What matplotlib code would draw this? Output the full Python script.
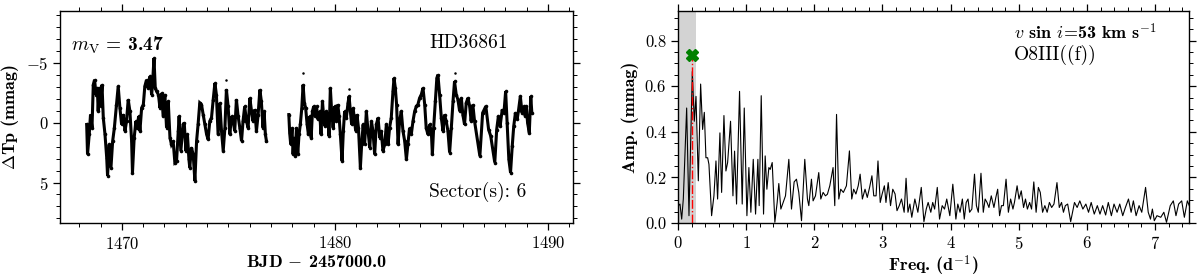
import matplotlib
matplotlib.use('Agg')
import matplotlib.pyplot as plt
from matplotlib.ticker import MultipleLocator, FormatStrFormatter

plt.rcParams['font.family'] = 'serif'
plt.rcParams['font.serif'] = ['cmr10']
plt.rcParams['mathtext.fontset'] = 'cm'
plt.rcParams['axes.formatter.use_mathtext'] = True

# light curve, orbit 1 (BJD - 2457000, delta Tp in mmag)
time_orbit1 = [1468.35, 1468.39, 1468.47, 1468.53, 1468.60, 1468.66, 1468.72, 1468.79,
               1468.85, 1468.89, 1468.94, 1469.00, 1469.07, 1469.13, 1469.21, 1469.29,
               1469.33, 1469.41, 1469.49, 1469.57, 1469.65, 1469.75, 1469.83, 1469.91,
               1469.99, 1470.07, 1470.15, 1470.22, 1470.30, 1470.38, 1470.46, 1470.50,
               1470.58, 1470.66, 1470.72, 1470.79, 1470.85, 1470.93, 1471.01, 1471.08,
               1471.16, 1471.24, 1471.32, 1471.40, 1471.44, 1471.51, 1471.57, 1471.63,
               1471.72, 1471.79, 1471.87, 1471.94, 1472.02, 1472.10, 1472.18, 1472.26,
               1472.33, 1472.41, 1472.49, 1472.57, 1472.65, 1472.69, 1472.77, 1472.88,
               1472.93, 1473.01, 1473.08, 1473.15, 1473.19, 1473.27, 1473.35, 1473.43,
               1473.51, 1473.58, 1473.66, 1473.74, 1473.82, 1473.90, 1473.98, 1474.05,
               1474.13, 1474.21, 1474.29, 1474.37, 1474.44, 1474.52, 1474.60, 1474.68,
               1474.76, 1474.84, 1474.91, 1474.99, 1475.07, 1475.15, 1475.23, 1475.30,
               1475.38, 1475.46, 1475.54, 1475.62, 1475.69, 1475.77, 1475.85, 1475.93,
               1476.01, 1476.09, 1476.16, 1476.24, 1476.32, 1476.40, 1476.48, 1476.55,
               1476.63, 1476.68, 1476.74, 1476.79]
dmag_orbit1 = [0.14, 2.64, 0.97, -0.69, 0.42, -3.19, -3.61, -2.36,
               -2.92, -0.97, -2.92, -1.39, -3.19, -0.42, 0.97, 2.92,
               4.44, 1.81, 3.75, 1.53, 0.42, -1.53, -3.06, -1.25,
               0.14, -0.69, 0.69, -0.14, -1.94, -0.97, 1.53, 4.17,
               1.25, -0.14, 0.42, -0.56, 0.69, -1.25, -1.53, -3.06,
               -3.61, -2.92, -3.89, -2.36, -3.19, -5.42, -2.92, -2.64,
               -2.36, -1.25, -2.50, -0.56, -2.36, 0.42, -1.81, 1.25,
               1.81, 1.53, 3.33, 3.19, 0.69, -0.56, 2.36, 0.14,
               0.00, 2.36, 0.97, 3.06, 3.75, 2.08, 2.64, 4.86,
               1.53, 0.14, -1.67, -1.53, -0.69, 0.14, 0.97, 1.39,
               -0.14, -0.42, -1.94, -3.33, -2.36, 0.97, -1.67, 0.69,
               2.36, 0.42, -2.78, -1.39, 0.97, -0.56, -0.14, 0.69,
               -1.94, -0.56, 0.42, 1.53, -0.14, -1.39, -0.14, 0.42,
               -2.08, -0.97, -0.14, -1.11, 0.69, -0.69, -2.78, -1.81,
               0.42, -0.97, 0.97, 1.53]

# light curve, orbit 2
time_orbit2 = [1477.84, 1477.88, 1477.93, 1477.99, 1478.04, 1478.09, 1478.13, 1478.20,
               1478.26, 1478.32, 1478.38, 1478.45, 1478.51, 1478.57, 1478.63, 1478.70,
               1478.76, 1478.82, 1478.89, 1478.95, 1479.01, 1479.07, 1479.14, 1479.21,
               1479.29, 1479.35, 1479.42, 1479.48, 1479.54, 1479.60, 1479.67, 1479.73,
               1479.79, 1479.85, 1479.92, 1480.00, 1480.07, 1480.14, 1480.20, 1480.26,
               1480.34, 1480.40, 1480.46, 1480.54, 1480.62, 1480.67, 1480.73, 1480.79,
               1480.86, 1480.93, 1480.98, 1481.04, 1481.11, 1481.20, 1481.26, 1481.33,
               1481.40, 1481.48, 1481.56, 1481.64, 1481.72, 1481.79, 1481.87, 1481.95,
               1482.03, 1482.11, 1482.18, 1482.26, 1482.34, 1482.42, 1482.50, 1482.57,
               1482.65, 1482.73, 1482.78, 1482.84, 1482.90, 1482.97, 1483.04, 1483.12,
               1483.20, 1483.28, 1483.36, 1483.43, 1483.51, 1483.59, 1483.67, 1483.75,
               1483.83, 1483.90, 1483.98, 1484.06, 1484.14, 1484.22, 1484.29, 1484.37,
               1484.45, 1484.53, 1484.58, 1484.64, 1484.72, 1484.79, 1484.84, 1484.92,
               1485.00, 1485.08, 1485.15, 1485.23, 1485.31, 1485.39, 1485.47, 1485.55,
               1485.62, 1485.70, 1485.78, 1485.86, 1485.94, 1486.01, 1486.09, 1486.17,
               1486.25, 1486.33, 1486.40, 1486.48, 1486.56, 1486.81, 1486.94, 1487.09,
               1487.22, 1487.32, 1487.51, 1487.60, 1487.68, 1487.76, 1487.86, 1487.94,
               1488.02, 1488.09, 1488.17, 1488.25, 1488.33, 1488.40, 1488.48, 1488.56,
               1488.63, 1488.71, 1488.79, 1488.87, 1488.94, 1488.99, 1489.05, 1489.13,
               1489.20, 1489.25]
dmag_orbit2 = [-0.69, 0.83, 1.81, 0.42, 2.64, 1.25, 2.78, 0.42,
               2.64, 0.97, 0.14, -1.25, -3.19, -1.67, -1.25, 0.14,
               0.97, -0.56, 1.25, -0.97, -1.39, -0.56, -1.39, -0.28,
               -0.97, 0.97, -1.81, -0.42, 0.28, -0.97, -0.56, 1.11,
               -2.92, -0.97, 0.42, -1.39, -0.14, -1.53, -0.56, 0.97,
               3.19, 0.69, -0.97, -0.42, -1.67, -2.22, -0.97, 0.14,
               -1.25, -0.14, 0.69, -0.69, 0.42, 3.75, 1.81, 0.14,
               1.81, -0.97, 0.69, 2.08, -0.14, 0.69, 2.64, 0.14,
               -0.42, 1.25, 0.69, 2.36, 1.81, 0.14, 1.81, 0.42,
               -0.42, -2.64, -3.75, -2.92, -1.53, 1.81, -0.14, -0.97,
               0.69, 1.53, 3.06, 1.81, 0.42, 0.97, -0.14, -0.97,
               -1.39, -1.53, -2.08, -2.36, -2.92, -1.53, 0.42, 0.97,
               0.14, 0.69, 2.64, 0.42, -1.81, -3.75, -4.03, -2.36,
               -0.42, 0.69, -0.69, -0.14, 0.69, 2.50, 0.42, -1.81,
               -3.47, -2.36, -1.94, -0.97, -2.08, -0.69, 0.14, -1.67,
               -2.08, -1.39, -0.14, -1.53, -0.14, 2.78, -0.83, -1.39,
               0.56, 1.11, 3.33, 0.56, -0.56, 0.28, -1.11, -0.83,
               -2.64, 0.00, 3.06, 4.17, 1.94, 0.28, -0.83, -0.28,
               -1.11, -2.22, -0.83, -1.39, -0.56, -1.39, 0.00, 0.83,
               -2.22, -0.83]

# isolated points above the band
outlier_time = [1474.91, 1478.51, 1480.65, 1485.62]
outlier_dmag = [-3.61, -4.17, -2.80, -4.20]

# amplitude spectrum
freq = [0.005, 0.029, 0.054, 0.078, 0.127, 0.161, 0.210, 0.239, 0.264, 0.298,
        0.332, 0.361, 0.386, 0.410, 0.435, 0.454, 0.493, 0.527, 0.557, 0.581,
        0.615, 0.640, 0.674, 0.703, 0.728, 0.771, 0.806, 0.830, 0.859, 0.903,
        0.942, 0.972, 1.011, 1.040, 1.069, 1.104, 1.138, 1.172, 1.191, 1.221,
        1.255, 1.279, 1.304, 1.333, 1.353, 1.382, 1.421, 1.455, 1.479, 1.509,
        1.543, 1.577, 1.626, 1.665, 1.704, 1.738, 1.772, 1.812, 1.860, 1.899,
        1.919, 1.958, 1.982, 2.017, 2.065, 2.095, 2.129, 2.163, 2.192, 2.227,
        2.275, 2.300, 2.326, 2.359, 2.387, 2.426, 2.471, 2.515, 2.549, 2.577,
        2.610, 2.644, 2.672, 2.705, 2.744, 2.777, 2.811, 2.845, 2.872, 2.906,
        2.934, 2.967, 2.995, 3.028, 3.051, 3.084, 3.118, 3.151, 3.185, 3.213,
        3.246, 3.279, 3.318, 3.346, 3.374, 3.402, 3.430, 3.475, 3.519, 3.569,
        3.608, 3.642, 3.670, 3.709, 3.737, 3.765, 3.804, 3.837, 3.876, 3.910,
        3.943, 3.988, 4.032, 4.077, 4.105, 4.138, 4.172, 4.200, 4.228, 4.255,
        4.278, 4.311, 4.350, 4.378, 4.406, 4.445, 4.479, 4.506, 4.534, 4.562,
        4.596, 4.635, 4.663, 4.690, 4.718, 4.746, 4.774, 4.813, 4.847, 4.880,
        4.914, 4.936, 4.975, 5.003, 5.036, 5.070, 5.098, 5.126, 5.159, 5.187,
        5.220, 5.254, 5.287, 5.315, 5.349, 5.382, 5.416, 5.449, 5.482, 5.516,
        5.560, 5.594, 5.627, 5.655, 5.683, 5.717, 5.761, 5.817, 5.856, 5.895,
        5.940, 5.984, 6.023, 6.062, 6.107, 6.152, 6.191, 6.230, 6.274, 6.313,
        6.358, 6.397, 6.442, 6.481, 6.525, 6.564, 6.609, 6.648, 6.681, 6.721,
        6.765, 6.804, 6.860, 6.899, 6.932, 6.960, 6.988, 7.027, 7.083, 7.128,
        7.167, 7.222, 7.267, 7.306, 7.345, 7.390, 7.429, 7.473, 7.501]
amp = [0.076, 0.083, 0.017, 0.105, 0.504, 0.032, 0.664, 0.446, 0.555, 0.185,
       0.609, 0.410, 0.485, 0.286, 0.286, 0.257, 0.032, 0.119, 0.272, 0.105,
       0.395, 0.134, 0.471, 0.228, 0.265, 0.446, 0.119, 0.315, 0.083, 0.577,
       0.083, 0.504, 0.032, 0.243, 0.047, 0.279, 0.039, 0.279, 0.076, 0.558,
       0.039, 0.294, 0.148, 0.243, 0.235, 0.265, 0.003, 0.090, 0.173, 0.061,
       0.090, 0.119, 0.279, 0.061, 0.180, 0.192, 0.134, 0.010, 0.279, 0.105,
       0.076, 0.192, 0.097, 0.119, 0.221, 0.105, 0.134, 0.119, 0.126, 0.163,
       0.243, 0.076, 0.476, 0.105, 0.148, 0.134, 0.163, 0.316, 0.105, 0.148,
       0.127, 0.163, 0.214, 0.105, 0.148, 0.112, 0.156, 0.207, 0.119, 0.119,
       0.272, 0.090, 0.127, 0.163, 0.090, 0.177, 0.076, 0.148, 0.127, 0.054,
       0.076, 0.105, 0.047, 0.196, 0.047, 0.083, 0.025, 0.105, 0.047, 0.156,
       0.006, 0.061, 0.090, 0.047, 0.090, 0.061, 0.156, 0.017, 0.076, 0.061,
       0.105, 0.032, 0.170, 0.017, 0.083, 0.047, 0.105, 0.017, 0.090, 0.105,
       0.047, 0.061, 0.214, 0.076, 0.047, 0.218, 0.047, 0.105, 0.090, 0.068,
       0.119, 0.068, 0.112, 0.148, 0.032, 0.076, 0.076, 0.192, 0.047, 0.105,
       0.061, 0.090, 0.163, 0.105, 0.141, 0.068, 0.105, 0.061, 0.090, 0.061,
       0.180, 0.047, 0.156, 0.134, 0.047, 0.076, 0.047, 0.090, 0.068, 0.083,
       0.177, 0.068, 0.090, 0.047, 0.076, 0.083, 0.006, 0.090, 0.068, 0.097,
       0.061, 0.083, 0.047, 0.090, 0.039, 0.076, 0.039, 0.076, 0.035, 0.090,
       0.032, 0.083, 0.047, 0.083, 0.032, 0.068, 0.105, 0.047, 0.097, 0.032,
       0.076, 0.047, 0.156, 0.047, 0.017, 0.061, 0.010, 0.032, 0.025, 0.047,
       0.003, 0.076, 0.097, 0.032, 0.083, 0.097, 0.025, 0.097, 0.076]

f_dom = 0.21
amp_mark = 0.737
band = (0.02, 0.26)


def style_axis(ax):
    ax.tick_params(which='both', direction='out', top=True, right=True, labelsize=12)
    ax.tick_params(which='major', length=5, width=0.9)
    ax.tick_params(which='minor', length=3, width=0.7)
    for s in ax.spines.values():
        s.set_linewidth(1.0)


fig = plt.figure(figsize=(12, 2.77), dpi=100)
ax1 = fig.add_axes([0.0504, 0.195, 0.4267, 0.765])
ax2 = fig.add_axes([0.565, 0.195, 0.426, 0.765])

# left: light curve
for t, m in ((time_orbit1, dmag_orbit1), (time_orbit2, dmag_orbit2)):
    ax1.plot(t, m, color='black', lw=2.2, solid_joinstyle='miter')
    ax1.plot(t, m, 'o', color='black', ms=2.6, mew=0)
ax1.plot(outlier_time, outlier_dmag, 'o', color='black', ms=1.8, mew=0)
ax1.set_xlim(1467.12, 1491.16)
ax1.set_ylim(8.39, -9.36)
ax1.xaxis.set_major_locator(MultipleLocator(10))
ax1.xaxis.set_minor_locator(MultipleLocator(1))
ax1.yaxis.set_major_locator(MultipleLocator(5))
ax1.yaxis.set_minor_locator(MultipleLocator(1))
style_axis(ax1)
ax1.set_xlabel(r'BJD $-$ 2457000.0', family='cmb10', fontsize=13, labelpad=1)
ax1.set_ylabel(r'$\Delta$Tp (mmag)', family='cmb10', fontsize=13, labelpad=4)
ax1.text(0.02, 0.89, r'$m_{\rm V}$ = 3.47', transform=ax1.transAxes, family='cmb10',
         fontsize=14, va='top', ha='left')
ax1.text(0.72, 0.89, 'HD36861', transform=ax1.transAxes, fontsize=14, va='top', ha='left')
ax1.text(0.72, 0.10, 'Sector(s): 6', transform=ax1.transAxes, fontsize=14,
         va='bottom', ha='left')

# right: amplitude spectrum
ax2.axvspan(band[0], band[1], color='lightgrey', lw=0, zorder=0)
ax2.plot(freq, amp, color='black', lw=0.8)
ax2.plot([f_dom, f_dom], [0, amp_mark], color='red', ls='-.', lw=1.0)
ax2.plot(f_dom, amp_mark, 'X', color='green', ms=9, mec='green')
ax2.set_xlim(0, 7.5)
ax2.set_ylim(0, 0.929)
ax2.xaxis.set_major_locator(MultipleLocator(1))
ax2.xaxis.set_minor_locator(MultipleLocator(0.2))
ax2.yaxis.set_major_locator(MultipleLocator(0.2))
ax2.yaxis.set_minor_locator(MultipleLocator(0.05))
ax2.yaxis.set_major_formatter(FormatStrFormatter('%.1f'))
style_axis(ax2)
ax2.set_xlabel(r'Freq. (d$^{-1}$)', family='cmb10', fontsize=13, labelpad=1)
ax2.set_ylabel('Amp. (mmag)', family='cmb10', fontsize=13, labelpad=4)
ax2.text(0.658, 0.95, r'$v$ sin $i$=53 km s$^{-1}$', transform=ax2.transAxes,
         family='cmb10', fontsize=13, va='top', ha='left')
ax2.text(0.658, 0.84, 'O8III((f))', transform=ax2.transAxes, fontsize=14,
         va='top', ha='left')

fig.savefig('out.png', dpi=100)
